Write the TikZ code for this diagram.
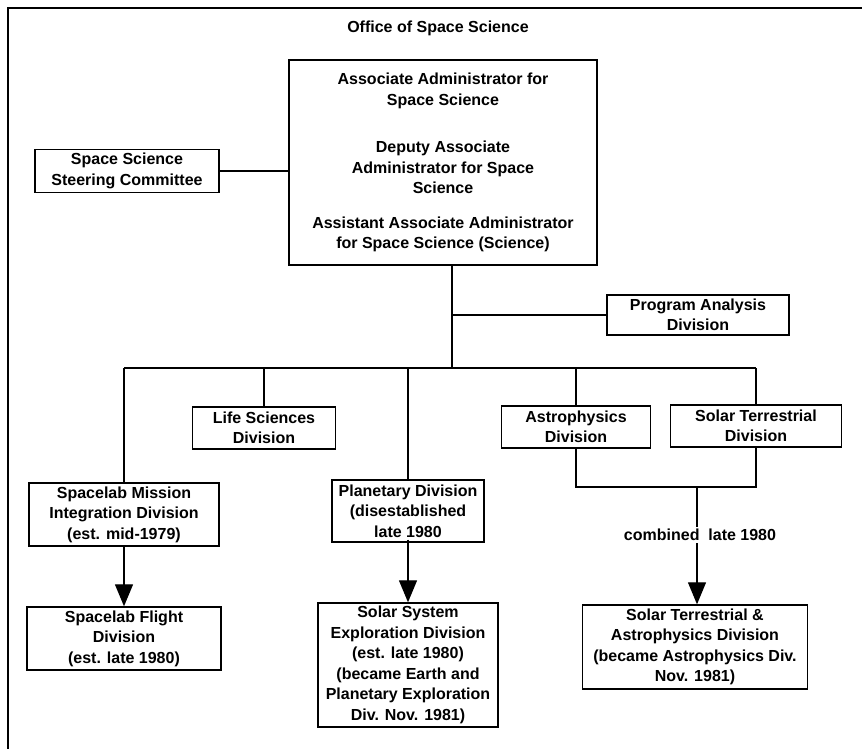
\documentclass[tikz,border=0pt]{standalone}
\usepackage{fontspec}
\setmainfont{Liberation Sans}
\usetikzlibrary{arrows.meta}

\begin{document}
\begin{tikzpicture}[x=1pt,y=-1pt,>={Triangle[width=18pt,length=22pt]},
  box/.style={draw,line width=1.4pt,align=center,inner sep=0pt,font=\bfseries\fontsize{16}{20.5}\selectfont},
  link/.style={line width=1.3pt}]
\useasboundingbox (0,0) rectangle (862,749);
\draw[line width=1.2pt] (8,749) |- (862,8);
\node[font=\bfseries\fontsize{16}{20.5}\selectfont] (title) at (438,28) {Office of Space Science};
% top level
\node[box,minimum width=308pt,minimum height=205pt] (main) at (443,162.5) {Associate Administrator for\\Space Science\\[27pt]Deputy Associate\\Administrator for Space\\Science\\[14pt]Assistant Associate Administrator\\for Space Science (Science)};
\node[box,minimum width=184pt,minimum height=43pt] (steer) at (127,171) {Space Science\\Steering Committee};
\node[box,minimum width=182pt,minimum height=40pt] (prog) at (698,315) {Program Analysis\\Division};
% divisions
\node[box,minimum width=190pt,minimum height=63pt] (slmid) at (124,514.5) {Spacelab Mission\\Integration Division\\(est. mid-1979)};
\node[box,minimum width=143pt,minimum height=42pt] (life) at (264,428) {Life Sciences\\Division};
\node[box,minimum width=152pt,minimum height=62pt] (plan) at (408,511) {Planetary Division\\(disestablished\\late 1980};
\node[box,minimum width=149pt,minimum height=42pt] (astro) at (576,427) {Astrophysics\\Division};
\node[box,minimum width=171pt,minimum height=42pt] (solter) at (756,426) {Solar Terrestrial\\Division};
% successors
\node[box,minimum width=194pt,minimum height=63pt] (slfd) at (124,638.5) {Spacelab Flight\\Division\\(est. late 1980)};
\node[box,minimum width=180pt,minimum height=124pt] (ssed) at (408,665) {Solar System\\Exploration Division\\(est. late 1980)\\(became Earth and\\Planetary Exploration\\Div. Nov. 1981)};
\node[box,minimum width=225pt,minimum height=84pt] (stad) at (695,647) {Solar Terrestrial \&\\Astrophysics Division\\(became Astrophysics Div.\\Nov. 1981)};
\coordinate (bus) at (452,368);
\coordinate (join) at (697,487);
\node[font=\bfseries\fontsize{16}{20.5}\selectfont,inner sep=2pt] (comb) at (700,535) {combined\ \ late 1980};
% connectors
\draw[link] (steer.east) -- (steer.east -| main.west);
\draw[link] (main.south -| bus) -- (bus);
\draw[link] (prog.west) -- (prog.west -| bus);
\draw[link] (slmid.north |- bus) -- (solter.north |- bus);
\foreach \n in {slmid,life,plan,astro,solter}
  \draw[link] (\n.north) -- (\n.north |- bus);
\draw[link] (astro.south) |- (join) -| (solter.south);
\draw[link,->] (slmid.south) -- (slfd.north);
\draw[link,->] ([yshift=3pt]plan.south) -- (ssed.north);
\draw[link] (join) -- (join |- comb.north);
\draw[link,->] (join |- comb.south) -- (join |- stad.north);
\end{tikzpicture}
\end{document}
